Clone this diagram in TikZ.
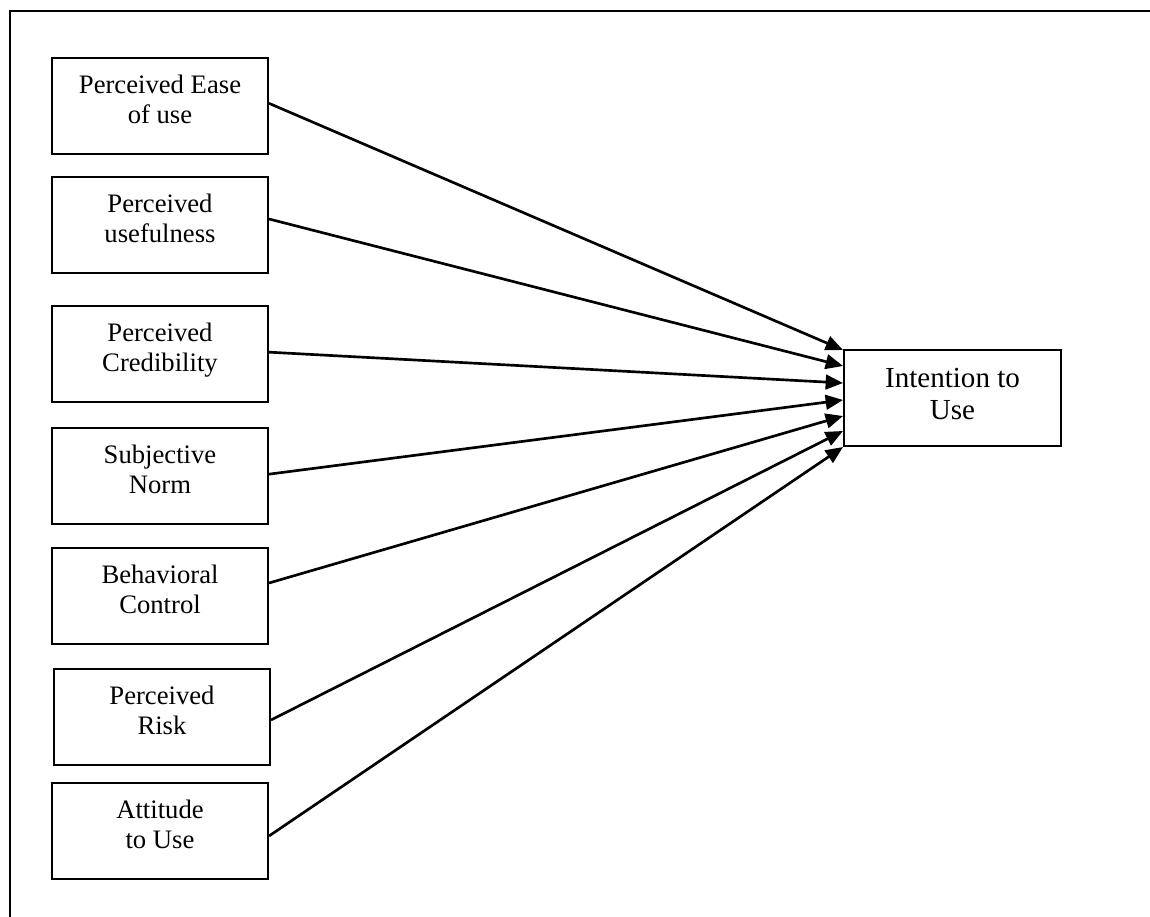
\documentclass[tikz,border=0pt]{standalone}
\usepackage{fontspec}
\setmainfont{Liberation Serif}
\usetikzlibrary{arrows.meta}

\tikzset{
  factor/.style={draw, line width=1.5pt, minimum width=162pt, minimum height=72pt,
    inner sep=0pt, align=center, text depth=10pt, font=\fontsize{20}{22.5}\selectfont},
  outcome/.style={draw, line width=1.5pt, minimum width=162.75pt, minimum height=72pt,
    inner sep=0pt, align=center, text depth=6pt, font=\fontsize{21.8}{24.5}\selectfont},
  link/.style={line width=2pt, -{Triangle[length=13pt,width=11pt]}}
}

\begin{document}
\begin{tikzpicture}[x=0.75pt,y=0.75pt,yscale=-1,xscale=1]

\useasboundingbox (0,0) rectangle (1150,917);

% frame
\draw[line width=1.7pt] (10,917) -- (10,11) -- (1150,11);

% factors
\node[factor] (peou) at (160,106) {Perceived Ease\\of use};

\node[factor] (pu) at (160,225) {Perceived\\usefulness};

\node[factor] (pc) at (160,353.5) {Perceived\\Credibility};

\node[factor] (sn) at (160,475.5) {Subjective\\Norm};

\node[factor] (bc) at (160,596) {Behavioral\\Control};

\node[factor] (pr) at (162,717) {Perceived\\Risk};

\node[factor] (atu) at (160,831) {Attitude\\to Use};

% outcome
\node[outcome] (iu) at (952.5,398) {Intention to\\Use};

% links (yscale=-1 flips yshift)
\foreach \src/\a/\b in {peou/-2/-36, pu/-4.5/-24, pc/-1/-11.25, sn/-1/1.5,
    bc/-9.75/13.5, pr/2.25/24.75, atu/3.75/36.75}
  \draw[link] ([yshift=\a pt]\src.east) -- ([yshift=\b pt]iu.west);

\end{tikzpicture}
\end{document}
